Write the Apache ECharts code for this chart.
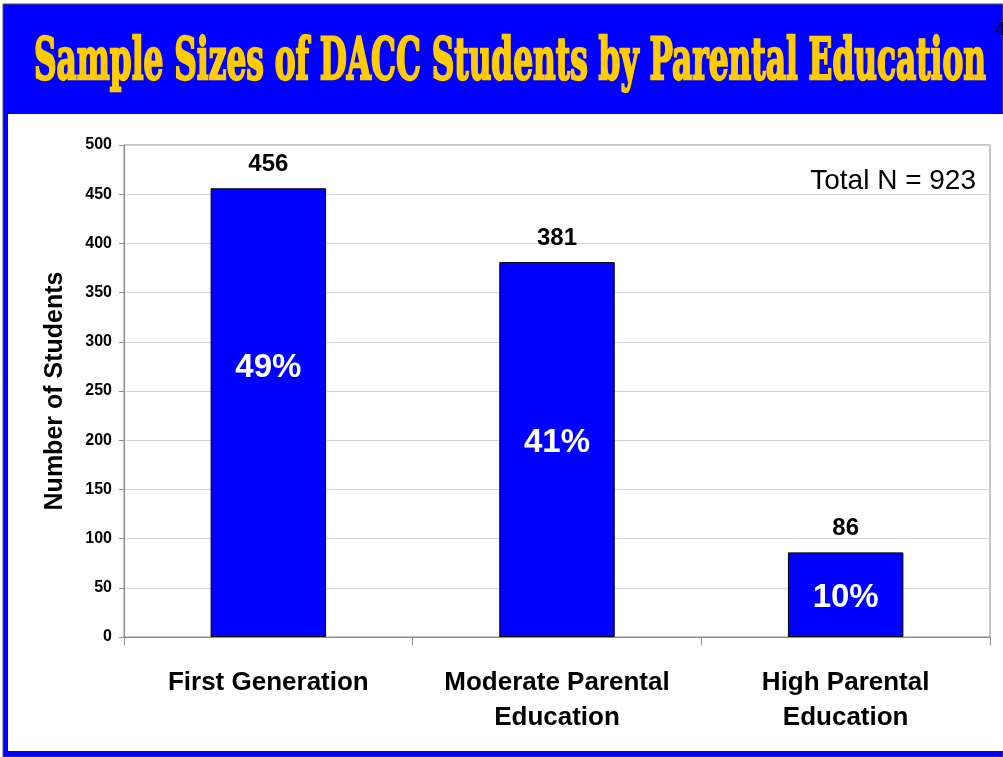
<!DOCTYPE html>
<html><head><meta charset="utf-8">
<script src="https://cdn.jsdelivr.net/npm/echarts@6/dist/echarts.min.js"></script>
<style>html,body{margin:0;padding:0;background:#fff;}#c{width:1003px;height:757px;}</style>
</head><body><div id="c"></div>
<script>
const categories = ['First Generation', 'Moderate Parental\nEducation', 'High Parental\nEducation'];
const students = [456, 381, 86];
const percentLabels = ['49%', '41%', '10%'];
const percentOffsets = [-45, -7, 3];
const yTicks = [0, 50, 100, 150, 200, 250, 300, 350, 400, 450, 500];
const titleText = 'Sample Sizes of DACC Students by Parental Education';
const totalText = 'Total N = 923';

const chart = echarts.init(document.getElementById('c'), null, {renderer: 'canvas'});

// title horizontal scale fit
const titleFont = 'bold 56px "DejaVu Serif Condensed", "DejaVu Serif", serif';
const ctx = document.createElement('canvas').getContext('2d');
ctx.font = titleFont;
const tw = ctx.measureText(titleText).width;
const targetW = 952;
const sx = targetW / tw;

chart.setOption({
  animation: false,
  backgroundColor: '#ffffff',
  graphic: [
    {type: 'rect', z: -10, shape: {x: 3, y: 4, width: 1000, height: 753}, style: {fill: '#0000ff', stroke: '#555', lineWidth: 1}},
    {type: 'rect', z: -9, shape: {x: 8, y: 114, width: 995, height: 637}, style: {fill: '#ffffff'}},
    {type: 'text', z: 5, x: 34, y: 64, scaleX: sx, scaleY: 1.04,
      style: {text: titleText, font: titleFont, fill: '#ffcc00', stroke: '#ffcc00', lineWidth: 2.2, textVerticalAlign: 'middle', textAlign: 'left'}},
    {type: 'text', z: 5, x: 995, y: 30, style: {text: '4', font: '18px "Liberation Sans", Arial', fill: '#000', textVerticalAlign: 'middle', textAlign: 'left'}},
    {type: 'text', z: 5, x: 976, y: 181, style: {text: totalText, font: '28px "Liberation Sans", Arial', fill: '#000', textAlign: 'right', textVerticalAlign: 'middle'}}
  ],
  grid: {left: 124, right: 13, top: 145, bottom: 120, show: true, borderColor: '#8c8c8c', borderWidth: 1, backgroundColor: 'transparent'},
  xAxis: {
    type: 'category', data: categories,
    axisLine: {lineStyle: {color: '#8c8c8c', width: 1}},
    axisTick: {show: true, length: 8, lineStyle: {color: '#8c8c8c'}},
    axisLabel: {color: '#000', fontFamily: '"Liberation Sans", Arial', fontWeight: 'bold', fontSize: 26, lineHeight: 35, margin: 28, interval: 0}
  },
  yAxis: {
    type: 'value', min: 0, max: 500, interval: 50,
    name: 'Number of Students', nameLocation: 'middle', nameGap: 56, nameRotate: 90,
    nameTextStyle: {color: '#000', fontFamily: '"Liberation Sans", Arial', fontWeight: 'bold', fontSize: 25},
    axisLine: {show: true, lineStyle: {color: '#8c8c8c'}},
    axisTick: {show: true, length: 5, lineStyle: {color: '#8c8c8c'}},
    axisLabel: {color: '#000', fontFamily: '"Liberation Sans", Arial', fontWeight: 'bold', fontSize: 16, margin: 12,
      formatter: v => yTicks.includes(v) ? String(v) : ''},
    splitLine: {lineStyle: {color: '#d4d4d4', width: 1}}
  },
  series: [
    {
      type: 'bar', barWidth: '40%',
      itemStyle: {color: '#0000ff', borderColor: '#000', borderWidth: 1},
      data: students.map((v, i) => ({value: v, label: {offset: [0, percentOffsets[i]]}})),
      label: {show: true, position: 'inside', color: '#fff', fontFamily: '"Liberation Sans", Arial', fontWeight: 'bold', fontSize: 33,
        formatter: p => percentLabels[p.dataIndex]}
    },
    {
      type: 'bar', barWidth: '40%', barGap: '-100%', silent: true,
      itemStyle: {color: 'transparent'},
      data: students,
      label: {show: true, position: 'top', distance: 12, color: '#000', fontFamily: '"Liberation Sans", Arial', fontWeight: 'bold', fontSize: 24}
    }
  ]
});
</script></body></html>
